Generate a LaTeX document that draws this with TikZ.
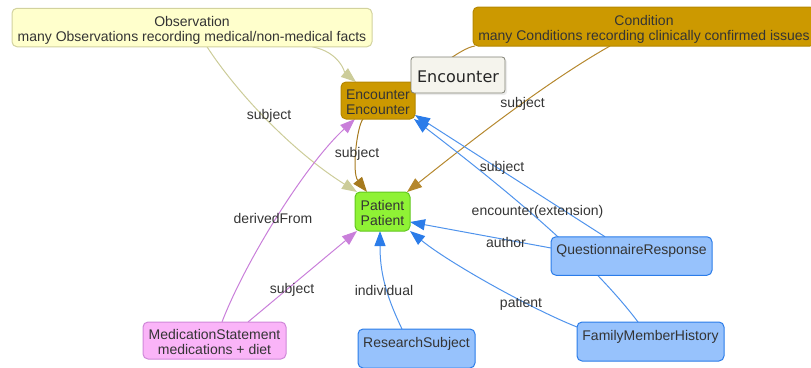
\documentclass[tikz,border=0pt]{standalone}
\usepackage{fontspec}
\setmainfont{Liberation Sans}
\newfontfamily\tipfont{DejaVu Sans}
\usetikzlibrary{arrows.meta,backgrounds,shadows}
\definecolor{txt}{HTML}{343434}
\definecolor{obsfill}{HTML}{FFFFCC}
\definecolor{obsline}{HTML}{D2D29E}
\definecolor{obsedgec}{HTML}{CCCC99}
\definecolor{goldfill}{HTML}{CC9900}
\definecolor{goldline}{HTML}{B58700}
\definecolor{condedgec}{HTML}{B5882E}
\definecolor{encedgec}{HTML}{A67A1E}
\definecolor{patfill}{HTML}{8FF235}
\definecolor{patline}{HTML}{62C71F}
\definecolor{bluefill}{HTML}{97C2FC}
\definecolor{blueline}{HTML}{2B7CE9}
\definecolor{bluelinelight}{HTML}{4F93EC}
\definecolor{pinkfill}{HTML}{FAB4F8}
\definecolor{pinkline}{HTML}{CF87D8}
\definecolor{pinkedgec}{HTML}{C97FDA}
\definecolor{tipfill}{HTML}{F5F4ED}
\definecolor{tipline}{HTML}{808074}
\newcommand\myNodeFont{\fontsize{14}{15.5}\selectfont}
\newcommand\boxln[1]{\raisebox{0pt}[13pt][0pt]{#1}}
\begin{document}
\begin{tikzpicture}[x=1pt,y=-1pt,
  rbox/.style={rectangle, rounded corners=5pt, line width=1pt, outer sep=0pt,
    inner sep=0pt, align=center, text=txt, font=\myNodeFont},
  obsbox/.style={rbox, fill=obsfill, draw=obsline},
  goldbox/.style={rbox, fill=goldfill, draw=goldline},
  patbox/.style={rbox, fill=patfill, draw=patline},
  bluebox/.style={rbox, fill=bluefill, draw=blueline},
  pinkbox/.style={rbox, fill=pinkfill, draw=pinkline},
  tipbox/.style={rectangle, rounded corners=3pt, fill=tipfill, draw=tipline,
    line width=0.8pt, inner sep=0pt, outer sep=0pt, text=black!85,
    font=\tipfont\fontsize{16}{19}\selectfont, text height=14pt, text depth=0pt,
    drop shadow={opacity=0.15, shadow xshift=2pt, shadow yshift=-2pt}},
  lbl/.style={text=txt, font=\myNodeFont, inner sep=0pt},
  arrowtip/.style={-{Triangle[length=15pt,width=11pt]}},
  obsedge/.style={draw=obsedgec, line width=1pt, arrowtip},
  condedge/.style={draw=condedgec, line width=1pt, arrowtip},
  condline/.style={draw=condedgec, line width=1pt},
  encedge/.style={draw=encedgec, line width=1pt, arrowtip},
  blueedge/.style={draw=bluelinelight, line width=1pt,
    -{Triangle[length=15pt,width=11pt,color=blueline]}},
  pinkedge/.style={draw=pinkedgec, line width=1pt, arrowtip}]
\useasboundingbox (0,0) rectangle (811,367);

% nodes
\node[obsbox, minimum width=360pt, minimum height=38.5pt] (obs) at (192,27.5)
  {\boxln{Observation}\\\boxln{many Observations recording medical/non-medical facts}};
\node[goldbox, minimum width=342pt, minimum height=39pt] (cond) at (644,26.5)
  {\boxln{Condition}\\\boxln{many Conditions recording clinically confirmed issues}};
\node[goldbox, minimum width=74pt, minimum height=37pt] (enc) at (378,100.5)
  {\boxln{Encounter}\\\boxln{Encounter}};
\node[patbox, minimum width=55pt, minimum height=39pt] (pat) at (382.5,211.5)
  {\boxln{Patient}\\\boxln{Patient}};
\node[bluebox, minimum width=161pt, minimum height=38.5pt] (qr) at (631.5,256)
  {\boxln{QuestionnaireResponse}\\\boxln{}};
\node[bluebox, minimum width=147pt, minimum height=39pt] (fmh) at (650.5,341.5)
  {\boxln{FamilyMemberHistory}\\\boxln{}};
\node[bluebox, minimum width=117pt, minimum height=39pt] (rs) at (416.5,348.5)
  {\boxln{ResearchSubject}\\\boxln{}};
\node[pinkbox, minimum width=143pt, minimum height=37pt] (ms) at (214.5,340.5)
  {\boxln{MedicationStatement}\\\boxln{medications + diet}};

% connectors
\begin{scope}[on background layer]
\draw[obsedge] ([xshift=15pt]obs.south) .. controls (235,90) and (290,150) .. ([xshift=2pt]pat.north west);
\draw[obsedge] ([xshift=120pt]obs.south) .. controls (340,52) and (345,73) .. ([xshift=15pt]enc.north west);
\draw[condline] ([xshift=2pt]cond.south west) .. controls (460,48) and (433,73) .. ([xshift=-1pt]enc.north east);
\draw[condedge] ([xshift=137pt]cond.south west) .. controls (541,85) and (456,153) .. ([xshift=-3pt]pat.north east);
\draw[encedge] ([xshift=-15pt]enc.south) .. controls (357,126) and (351.5,172.5) .. ([xshift=-15.5pt]pat.north);
\draw[blueedge] ([xshift=-26.5pt]qr.north) -- ([yshift=-14.5pt]enc.east);
\draw[blueedge] ([xshift=-12.5pt]fmh.north) .. controls (595,265) and (520,200) .. ([xshift=-1pt]enc.south east);
\draw[blueedge] ([yshift=8pt]qr.west) -- ([yshift=-10.5pt]pat.east);
\draw[blueedge] ([yshift=14.5pt]fmh.west) .. controls (530.5,308.5) and (448.5,262.5) .. (pat.south east);
\draw[blueedge] ([xshift=-14.5pt]rs.north) .. controls (384.8,293) and (380,271) .. ([xshift=-2.5pt]pat.south);
\draw[pinkedge] ([xshift=7.5pt]ms.north) .. controls (245,262) and (305,165) .. ([xshift=14pt]enc.south west);
\draw[pinkedge] ([xshift=33.5pt]ms.north) -- ([xshift=2pt]pat.south west);
\end{scope}

% connector labels
\node[lbl] (l1) at (269,116) {subject};
\node[lbl] (l2) at (357,153.5) {subject};
\node[lbl] (l3) at (522.5,103.5) {subject};
\node[lbl] (l4) at (502,167.5) {subject};
\node[lbl] (l5) at (537.5,211.5) {encounter(extension)};
\node[lbl] (l6) at (506,242) {author};
\node[lbl] (l7) at (521,304) {patient};
\node[lbl] (l8) at (384,290) {individual};
\node[lbl] (l9) at (273,218.5) {derivedFrom};
\node[lbl] (l10) at (292,290) {subject};

% tooltip
\node[tipbox, minimum width=94pt, minimum height=36pt] (tip) at (458,75) {Encounter};
\end{tikzpicture}
\end{document}
